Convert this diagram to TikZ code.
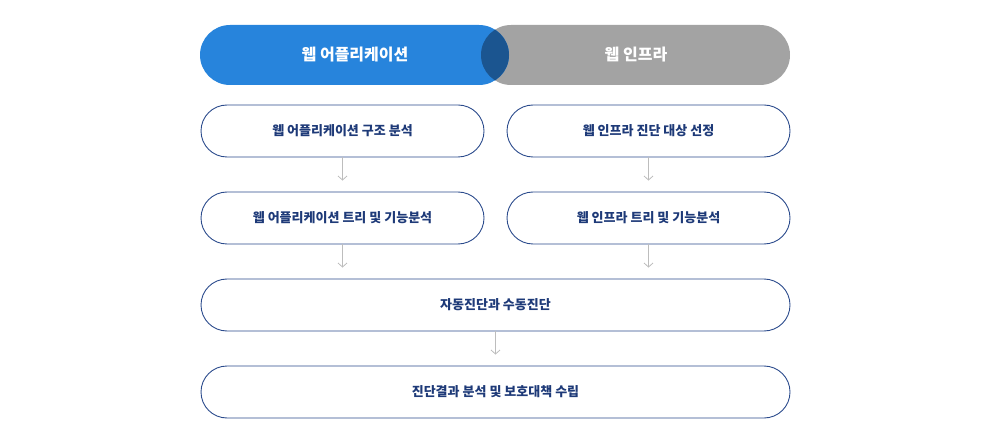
\documentclass[tikz,border=0pt]{standalone}
\usepackage{fontspec}
\newfontfamily\kr{Noto Sans CJK KR}
\usetikzlibrary{arrows.meta,calc}
\definecolor{pblue}{HTML}{2784DC}
\definecolor{pgray}{HTML}{A3A3A3}
\definecolor{pdark}{HTML}{1B5590}
\definecolor{navy}{HTML}{2B4B8C}
\definecolor{navytext}{HTML}{1E3A78}
\definecolor{arrgray}{HTML}{BDBDBD}
\tikzset{
  stepbox/.style={draw=navy, line width=0.9pt, rounded corners=26pt, minimum height=52pt, text=navytext, font=\kr\bfseries\fontsize{13}{15}\selectfont, inner sep=0pt},
  headtext/.style={text=white, font=\kr\bfseries\fontsize{16}{18}\selectfont},
  arr/.style={draw=arrgray, line width=0.8pt, -{Straight Barb[length=4pt,width=9pt]}},
}
\begin{document}
\begin{tikzpicture}[x=1pt,y=-1pt]
\useasboundingbox (0,0) rectangle (990,438);
% top pills
\fill[pgray, rounded corners=30pt] (481,25) rectangle (790,85);
\fill[pblue, rounded corners=30pt] (200,25) rectangle (509,85);
\begin{scope}
\clip[rounded corners=30pt] (481,25) rectangle (790,85);
\fill[pdark, rounded corners=30pt] (200,25) rectangle (509,85);
\end{scope}
\node[headtext] (hA) at (355,55) {웹 어플리케이션};
\node[headtext] (hB) at (636,55) {웹 인프라};
% boxes
\node[stepbox, minimum width=283pt] (a1) at (342.5,131) {웹 어플리케이션 구조 분석};
\node[stepbox, minimum width=283pt] (b1) at (648.5,131) {웹 인프라 진단 대상 선정};
\node[stepbox, minimum width=283pt] (a2) at (342.5,218) {웹 어플리케이션 트리 및 기능분석};
\node[stepbox, minimum width=283pt] (b2) at (648.5,218) {웹 인프라 트리 및 기능분석};
\node[stepbox, minimum width=589pt] (c3) at (495.5,305) {자동진단과 수동진단};
\node[stepbox, minimum width=589pt] (c4) at (495.5,392) {진단결과 분석 및 보호대책 수립};
% arrows
\draw[arr, shorten >=11pt] (a1.south) -- (a2.north);
\draw[arr, shorten >=11pt] (b1.south) -- (b2.north);
\draw[arr, shorten >=11pt] (a2.south) -- (a2.south |- c3.north);
\draw[arr, shorten >=11pt] (b2.south) -- (b2.south |- c3.north);
\draw[arr, shorten >=11pt] (c3.south) -- (c4.north);
\end{tikzpicture}
\end{document}
